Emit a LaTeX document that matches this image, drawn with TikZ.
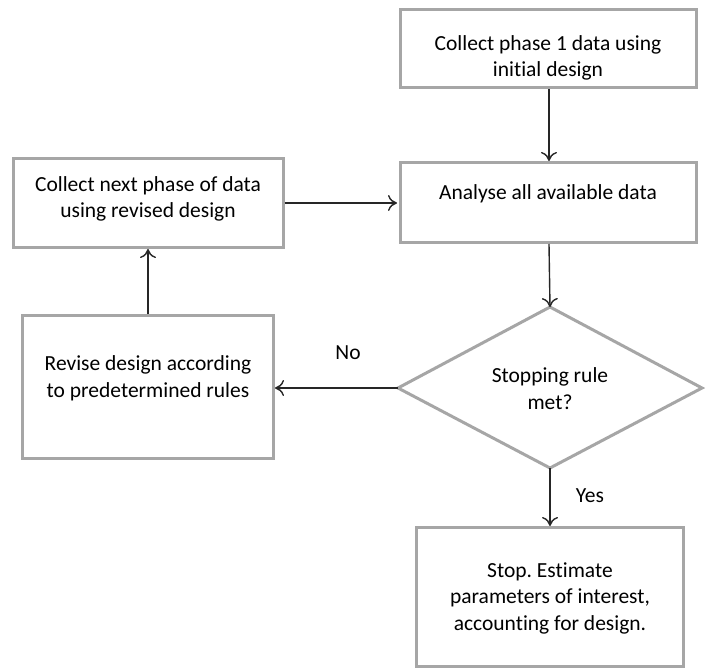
\documentclass[tikz,border=0pt]{standalone}
\usepackage{fontspec}
\setmainfont{Carlito}[Ligatures=NoCommon]
\usetikzlibrary{arrows.meta}
\definecolor{boxgray}{HTML}{A6A6A6}
\definecolor{linedark}{HTML}{262626}
\begin{document}
\frenchspacing
\begin{tikzpicture}[x=1pt,y=-1pt,
  txt/.style={font=\fontsize{21.5}{26.5}\selectfont, text=black, align=center, anchor=base, inner sep=0pt},
  box/.style={draw=boxgray, line width=3pt, fill=white, inner sep=0pt},
  conn/.style={draw=linedark, line width=1.4pt, -{To[length=9pt,width=16pt,line width=1.4pt]}}
]
\path[use as bounding box] (0,0) rectangle (707,671);
% boxes
\node[box, minimum width=296pt, minimum height=78pt] (b1) at (548,49) {};
\node[box, minimum width=296pt, minimum height=80pt] (b2) at (548,203) {};
\node[box, minimum width=270pt, minimum height=89pt] (b3) at (148,203) {};
\node[box, minimum width=251pt, minimum height=143pt] (b4) at (148,387) {};
\coordinate (dN) at (550,307);
\coordinate (dS) at (550,468);
\coordinate (dW) at (398,388);
\coordinate (dE) at (702,388);
\draw[draw=boxgray, line width=3pt, fill=white] (dN) -- (dE) -- (dS) -- (dW) -- cycle;
\node[box, minimum width=267pt, minimum height=139pt] (b5) at (550,597) {};
% texts (anchor base = last line's baseline)
\node[txt] (t1) at (548,77) {Collect phase 1 data using\\initial design};
\node[txt] (t2) at (548,200) {Analyse all available data};
\node[txt] (t3) at (148,218) {Collect next phase of data\\using revised design};
\node[txt] (t4) at (148,397) {Revise design according\\to predetermined rules};
\node[txt] (t5) at (550,409) {Stopping rule\\met?};
\node[txt] (t6) at (550,630) {Stop. Estimate\\parameters of interest,\\accounting for design.};
% connectors
\draw[conn] (b1.south -| 549,0) -- (549,161);
\draw[conn] (549,244) -- (dN);
\draw[conn] (b3.east) -- (397,203);
\draw[conn] (b4.north) -- (b3.south);
\draw[conn] (dW) -- (275,388);
\draw[conn] (dS) -- (550,526);
\node[txt] (no) at (348,359) {No};
\node[txt] (yes) at (590,502) {Yes};
\end{tikzpicture}
\end{document}
